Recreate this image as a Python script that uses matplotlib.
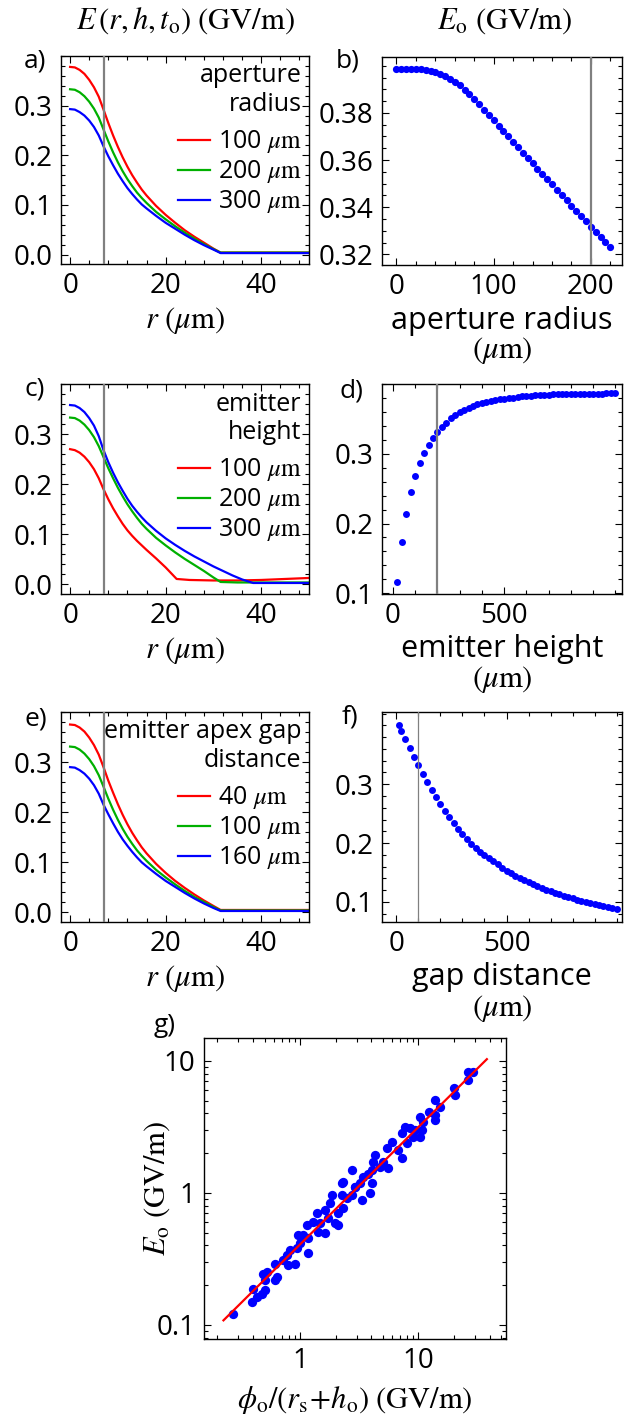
import numpy as np
import matplotlib.pyplot as plt
from matplotlib.ticker import MultipleLocator, FixedLocator, LogLocator, NullFormatter, FormatStrFormatter

plt.rcParams['font.family'] = ['Open Sans', 'DejaVu Sans']
plt.rcParams['mathtext.fontset'] = 'stix'
plt.rcParams['font.size'] = 18

RED = '#ff0000'
GREEN = '#00b000'
BLUE = '#0000ff'
GREY = '#808080'
LABEL_SIZE = 22
TICK_SIZE = 20

# radial field profiles E(r) for three values of each parameter
r_a = [0, 1, 2, 3, 4, 5, 6, 7, 8, 9, 10, 11, 12, 13, 14, 15, 16, 18, 20, 22, 24, 26, 28, 30, 31.5, 35, 40, 45, 50]
a_100 = [0.378, 0.377, 0.372, 0.364, 0.352, 0.337, 0.318, 0.292, 0.265, 0.240, 0.217, 0.196, 0.177, 0.160,
         0.145, 0.131, 0.119, 0.098, 0.080, 0.064, 0.049, 0.036, 0.024, 0.012, 0.004, 0.004, 0.004, 0.004, 0.004]
a_200 = [0.333, 0.332, 0.327, 0.319, 0.308, 0.294, 0.276, 0.252, 0.228, 0.206, 0.186, 0.168, 0.152, 0.138,
         0.125, 0.114, 0.104, 0.086, 0.071, 0.057, 0.044, 0.032, 0.021, 0.011, 0.004, 0.004, 0.004, 0.004, 0.004]
a_300 = [0.293, 0.292, 0.287, 0.280, 0.270, 0.257, 0.240, 0.218, 0.198, 0.180, 0.163, 0.148, 0.134, 0.122,
         0.111, 0.101, 0.093, 0.078, 0.064, 0.052, 0.040, 0.029, 0.019, 0.010, 0.003, 0.003, 0.003, 0.003, 0.003]

r_c_red = [0, 1, 2, 3, 4, 5, 6, 7, 8, 9, 10, 11, 12, 13, 14, 15, 16, 18, 20, 21, 22.3, 25, 30, 35, 40, 45, 50]
c_100 = [0.270, 0.268, 0.263, 0.255, 0.244, 0.230, 0.212, 0.190, 0.170, 0.152, 0.136, 0.121, 0.108, 0.097,
         0.087, 0.078, 0.069, 0.052, 0.034, 0.024, 0.011, 0.009, 0.008, 0.008, 0.009, 0.011, 0.013]
r_c_green = [0, 1, 2, 3, 4, 5, 6, 7, 8, 9, 10, 11, 12, 13, 14, 15, 16, 18, 20, 22, 24, 26, 28, 30, 31.5, 35, 40, 45, 50]
c_200 = [0.333, 0.332, 0.327, 0.319, 0.308, 0.294, 0.276, 0.254, 0.232, 0.212, 0.193, 0.176, 0.160, 0.146,
         0.133, 0.121, 0.111, 0.093, 0.078, 0.064, 0.051, 0.039, 0.027, 0.014, 0.005, 0.004, 0.004, 0.004, 0.004]
r_c_blue = [0, 1, 2, 3, 4, 5, 6, 7, 8, 9, 10, 11, 12, 13, 14, 15, 16, 18, 20, 22, 24, 26, 28, 30, 32, 34, 36, 38.3, 40, 45, 50]
c_300 = [0.358, 0.357, 0.352, 0.344, 0.332, 0.317, 0.296, 0.268, 0.244, 0.223, 0.204, 0.187, 0.171, 0.157,
         0.145, 0.134, 0.124, 0.107, 0.092, 0.079, 0.067, 0.056, 0.046, 0.036, 0.027, 0.018, 0.010, 0.003,
         0.003, 0.003, 0.003]

r_e = [0, 1, 2, 3, 4, 5, 6, 7, 8, 9, 10, 11, 12, 13, 14, 15, 16, 18, 20, 22, 24, 26, 28, 30, 31.5, 35, 40, 45, 50]
e_40 = [0.375, 0.374, 0.369, 0.361, 0.349, 0.334, 0.315, 0.290, 0.263, 0.239, 0.216, 0.195, 0.176, 0.159,
        0.144, 0.130, 0.118, 0.097, 0.079, 0.063, 0.049, 0.036, 0.024, 0.013, 0.005, 0.005, 0.005, 0.005, 0.005]
e_100 = [0.331, 0.330, 0.325, 0.317, 0.306, 0.292, 0.274, 0.251, 0.227, 0.205, 0.185, 0.167, 0.151, 0.137,
         0.124, 0.113, 0.103, 0.085, 0.070, 0.056, 0.043, 0.031, 0.021, 0.011, 0.004, 0.004, 0.004, 0.004, 0.004]
e_160 = [0.290, 0.289, 0.284, 0.277, 0.267, 0.254, 0.237, 0.215, 0.196, 0.178, 0.161, 0.146, 0.133, 0.121,
         0.110, 0.100, 0.092, 0.077, 0.063, 0.051, 0.039, 0.028, 0.018, 0.009, 0.003, 0.003, 0.003, 0.003, 0.003]

# peak field vs aperture radius
aperture = list(range(0, 225, 5))
E_aperture = [0.3988, 0.3988, 0.3988, 0.3987, 0.3986, 0.3984, 0.3981, 0.3978, 0.3974, 0.3966,
              0.3956, 0.3945, 0.3933, 0.3917, 0.3898, 0.3878, 0.3858, 0.3836, 0.3814, 0.3792,
              0.3769, 0.3746, 0.3723, 0.3700, 0.3678, 0.3655, 0.3632, 0.3610, 0.3587, 0.3564,
              0.3542, 0.3519, 0.3497, 0.3474, 0.3452, 0.3429, 0.3407, 0.3385, 0.3362, 0.3340,
              0.3318, 0.3296, 0.3274, 0.3252, 0.3230]

# peak field vs emitter height
height = list(range(20, 1001, 20))
E_height = [0.116, 0.173, 0.214, 0.245, 0.268, 0.287, 0.301, 0.313, 0.323, 0.332,
            0.339, 0.345, 0.351, 0.356, 0.360, 0.363, 0.366, 0.369, 0.371, 0.373,
            0.3745, 0.376, 0.3772, 0.3783, 0.3793, 0.3802, 0.381, 0.3818, 0.3825, 0.3831,
            0.3836, 0.3841, 0.3845, 0.3849, 0.3852, 0.3855, 0.3857, 0.3859, 0.3861, 0.3862,
            0.3863, 0.3864, 0.3865, 0.3866, 0.3866, 0.3867, 0.3867, 0.3868, 0.3868, 0.3868]

# peak field vs gap distance
gap = [10] + list(range(20, 1001, 20))
E_gap = [0.401, 0.391, 0.377, 0.361, 0.347, 0.332, 0.318, 0.303, 0.290, 0.278,
         0.266, 0.2545, 0.244, 0.2336, 0.2238, 0.2148, 0.2068, 0.1988, 0.192, 0.1852,
         0.1796, 0.174, 0.1688, 0.1637, 0.158, 0.1534, 0.1488, 0.1447, 0.1407, 0.1370,
         0.1335, 0.1300, 0.1269, 0.1238, 0.1209, 0.1182, 0.1155, 0.1130, 0.1105, 0.1082,
         0.1060, 0.1038, 0.1018, 0.0998, 0.0979, 0.0961, 0.0943, 0.0927, 0.0910, 0.0894,
         0.0879]

# simulated E_o against phi_o/(r_s+h_o), with power-law fit
g_x = [0.273, 0.391, 0.403, 0.431, 0.474, 0.506, 0.506, 0.490, 0.523, 0.635,
       0.615, 0.615, 0.723, 0.771, 0.823, 0.796, 0.907, 0.937, 1.000, 0.968,
       1.067, 1.175, 1.175, 1.139, 1.296, 1.383, 1.476, 1.429, 1.627, 1.627,
       1.735, 1.794, 1.977, 2.108, 1.853, 2.108, 2.250, 2.320, 2.480, 2.730,
       2.250, 2.920,
       26.5, 29.2, 26.5, 19.8, 20.4, 13.8, 15.3, 12.2, 13.8, 10.3,
       11.0, 13.8, 7.72, 8.51, 9.38, 10.7, 10.3, 9.07, 7.24, 7.98,
       5.96, 6.78, 7.24, 5.40, 4.31, 4.17, 5.06, 4.75, 5.58, 4.04,
       3.78, 3.43, 2.73, 3.21, 2.32, 4.04, 2.92,
       3.32, 3.90]
g_y = [0.1216, 0.149, 0.188, 0.1625, 0.1725, 0.183, 0.218, 0.2445, 0.252, 0.2305,
       0.218, 0.291, 0.308, 0.337, 0.367, 0.283, 0.291, 0.379, 0.413, 0.478,
       0.478, 0.451, 0.347, 0.569, 0.603, 0.698, 0.586, 0.506, 0.492, 0.739,
       0.639, 0.831, 0.586, 0.569, 0.961, 0.698, 0.961, 0.762, 0.906, 0.961,
       1.178, 1.110,
       8.28, 8.28, 7.16, 6.20, 5.51, 5.05, 4.49, 4.12, 3.89, 3.73,
       3.46, 3.56, 3.17, 3.08, 2.99, 2.99, 2.66, 2.66, 2.82, 2.37,
       2.44, 2.11, 1.82, 2.17, 1.93, 1.72, 1.72, 1.57, 1.53, 1.49,
       1.40, 1.32, 1.49, 1.18, 1.21, 1.18, 1.11,
       0.88, 0.99]
fit_x = [0.225, 37.9]
fit_y = [0.108, 10.3]

W, H = 624, 1421
fig = plt.figure(figsize=(W / 100, H / 100), dpi=100)


def add_ax(left, top, right, bottom):
    return fig.add_axes([left / W, 1 - bottom / H, (right - left) / W, (bottom - top) / H])


def style(ax):
    ax.tick_params(which='both', direction='in', top=True, right=True, width=0.8, labelsize=TICK_SIZE, pad=6)
    ax.tick_params(which='major', length=5)
    ax.tick_params(which='minor', length=3)
    for s in ax.spines.values():
        s.set_linewidth(1.0)


def profile_axes(ax, title):
    ax.set_xlim(-1.9, 50)
    ax.set_ylim(-0.019, 0.40)
    ax.xaxis.set_major_locator(FixedLocator([0, 20, 40]))
    ax.xaxis.set_minor_locator(MultipleLocator(4))
    ax.yaxis.set_major_locator(FixedLocator([0, 0.1, 0.2, 0.3]))
    ax.yaxis.set_minor_locator(MultipleLocator(0.02))
    ax.yaxis.set_major_formatter(FormatStrFormatter('%.1f'))
    ax.axvline(7.2, color=GREY, lw=1.6, zorder=3)
    ax.set_xlabel(r'$r\ (\mu{\rm m})$', labelpad=3, fontsize=LABEL_SIZE)
    style(ax)
    leg = ax.legend(title=title, loc='upper right', frameon=False, fontsize=18, title_fontsize=18,
                    handlelength=1.3, handletextpad=0.3, labelspacing=0.12, borderaxespad=0.1,
                    borderpad=0.2, alignment='right')
    leg.get_title().set_multialignment('right')
    leg._legend_box.sep = 8


# a) aperture radius
ax = add_ax(61, 56, 309, 264)
ax.plot(r_a, a_100, color=RED, lw=1.6, label=r'100 $\mu{\rm m}$')
ax.plot(r_a, a_200, color=GREEN, lw=1.6, label=r'200 $\mu{\rm m}$')
ax.plot(r_a, a_300, color=BLUE, lw=1.6, label=r'300 $\mu{\rm m}$')
profile_axes(ax, 'aperture\nradius')

# c) emitter height
ax = add_ax(61, 384, 309, 594)
ax.plot(r_c_red, c_100, color=RED, lw=1.6, label=r'100 $\mu{\rm m}$')
ax.plot(r_c_green, c_200, color=GREEN, lw=1.6, label=r'200 $\mu{\rm m}$')
ax.plot(r_c_blue, c_300, color=BLUE, lw=1.6, label=r'300 $\mu{\rm m}$')
profile_axes(ax, 'emitter\nheight')

# e) gap distance
ax = add_ax(61, 712, 309, 922)
ax.plot(r_e, e_40, color=RED, lw=1.6, label=r'40 $\mu{\rm m}$')
ax.plot(r_e, e_100, color=GREEN, lw=1.6, label=r'100 $\mu{\rm m}$')
ax.plot(r_e, e_160, color=BLUE, lw=1.6, label=r'160 $\mu{\rm m}$')
profile_axes(ax, 'emitter apex gap\ndistance')

# b) E_o vs aperture radius
ax = add_ax(382, 57, 622, 265)
ax.plot(aperture, E_aperture, 'o', color=BLUE, ms=5.2, mec='none', zorder=2)
ax.axvline(200, color=GREY, lw=1.6, zorder=3)
ax.set_xlim(-14.9, 232)
ax.set_ylim(0.3155, 0.4037)
ax.xaxis.set_major_locator(FixedLocator([0, 100, 200]))
ax.xaxis.set_minor_locator(MultipleLocator(20))
ax.yaxis.set_major_locator(FixedLocator([0.32, 0.34, 0.36, 0.38]))
ax.yaxis.set_minor_locator(MultipleLocator(0.005))
ax.yaxis.set_major_formatter(FormatStrFormatter('%.2f'))
ax.set_xlabel('aperture radius\n' + r'$(\mu{\rm m})$', labelpad=3, linespacing=1.0, fontsize=LABEL_SIZE)
style(ax)

# d) E_o vs emitter height
ax = add_ax(382, 384, 622, 593.5)
ax.plot(height, E_height, 'o', color=BLUE, ms=5.0, mec='none', zorder=2)
ax.axvline(200, color=GREY, lw=1.6, zorder=3)
ax.set_xlim(-49.5, 1030)
ax.set_ylim(0.0995, 0.4004)
ax.xaxis.set_major_locator(FixedLocator([0, 500]))
ax.xaxis.set_minor_locator(MultipleLocator(100))
ax.yaxis.set_major_locator(FixedLocator([0.1, 0.2, 0.3]))
ax.yaxis.set_minor_locator(MultipleLocator(0.02))
ax.yaxis.set_major_formatter(FormatStrFormatter('%.1f'))
ax.set_xlabel('emitter height\n' + r'$(\mu{\rm m})$', labelpad=3, linespacing=1.0, fontsize=LABEL_SIZE)
style(ax)

# f) E_o vs gap distance
ax = add_ax(382, 712, 622, 922)
ax.plot(gap, E_gap, 'o', color=BLUE, ms=5.0, mec='none', zorder=2)
ax.axvline(100, color=GREY, lw=0.9, zorder=3)
ax.set_xlim(-65, 1024)
ax.set_ylim(0.066, 0.4227)
ax.xaxis.set_major_locator(FixedLocator([0, 500]))
ax.xaxis.set_minor_locator(MultipleLocator(100))
ax.yaxis.set_major_locator(FixedLocator([0.1, 0.2, 0.3]))
ax.yaxis.set_minor_locator(MultipleLocator(0.02))
ax.yaxis.set_major_formatter(FormatStrFormatter('%.1f'))
ax.set_xlabel('gap distance\n' + r'$(\mu{\rm m})$', labelpad=3, linespacing=1.0, fontsize=LABEL_SIZE)
style(ax)

# g) log-log scaling
ax = add_ax(204, 1038, 506, 1339)
ax.plot(g_x, g_y, 'o', color=BLUE, ms=6.7, mec='none', zorder=2)
ax.plot(fit_x, fit_y, color=RED, lw=1.6, zorder=3)
ax.set_xscale('log')
ax.set_yscale('log')
ax.set_xlim(0.154, 55)
ax.set_ylim(0.078, 14.9)
ax.xaxis.set_major_locator(FixedLocator([1, 10]))
ax.xaxis.set_major_formatter(FormatStrFormatter('%g'))
ax.xaxis.set_minor_locator(LogLocator(base=10, subs=np.arange(2, 10), numticks=10))
ax.xaxis.set_minor_formatter(NullFormatter())
ax.yaxis.set_major_locator(FixedLocator([0.1, 1, 10]))
ax.yaxis.set_major_formatter(FormatStrFormatter('%g'))
ax.yaxis.set_minor_locator(LogLocator(base=10, subs=np.arange(2, 10), numticks=10))
ax.yaxis.set_minor_formatter(NullFormatter())
ax.set_xlabel(r'$\phi_{\rm o}/(r_{\rm s}\!+\!h_{\rm o})\ ({\rm GV/m})$', labelpad=6, fontsize=LABEL_SIZE)
ax.set_ylabel(r'$E_{\rm o}\ ({\rm GV/m})$', fontsize=LABEL_SIZE)
ax.yaxis.set_label_coords(-0.105, 0.5)
style(ax)

# column headings and panel letters
fig.text(185 / W, 1 - 21 / H, r'$E\,(r,h,t_{\rm o})\ ({\rm GV/m})$', ha='center', va='center', fontsize=LABEL_SIZE)
fig.text(505 / W, 1 - 21 / H, r'$E_{\rm o}\ ({\rm GV/m})$', ha='center', va='center', fontsize=LABEL_SIZE)
for lab, x, y in [('a)', 24, 61), ('b)', 336, 61), ('c)', 24, 389), ('d)', 340, 391),
                  ('e)', 24, 719), ('f)', 342, 717), ('g)', 154, 1025)]:
    fig.text(x / W, 1 - y / H, lab, ha='left', va='center', fontsize=19)

fig.savefig('out.png', dpi=100)
